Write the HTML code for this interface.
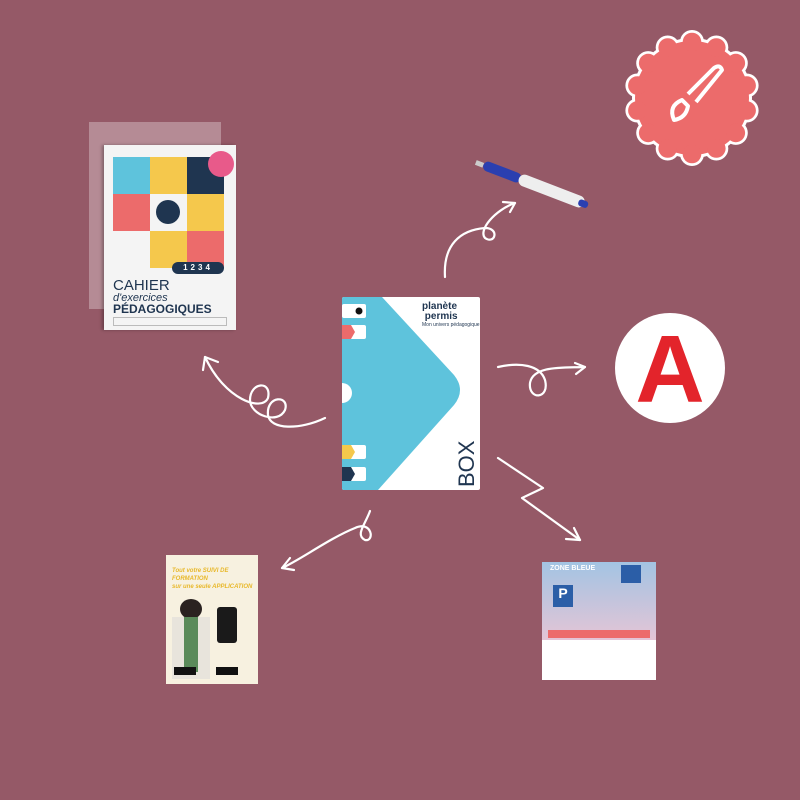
<!DOCTYPE html>
<html><head><meta charset="utf-8"><style>
html,body{margin:0;padding:0}
body{width:800px;height:800px;background:#955967;position:relative;overflow:hidden;font-family:"Liberation Sans",sans-serif}
.abs{position:absolute}
</style></head><body>
<svg class="abs" style="left:0;top:0" width="800" height="800" viewBox="0 0 800 800">
<defs>
<g id="bw"><use href="#b0"/></g>
</defs>
<!-- badge -->
<g transform="translate(692,98)">
<g fill="#fff">
<circle r="60"/>
<circle cx="0" cy="-56" r="12"/><circle cx="24.3" cy="-50.5" r="12"/><circle cx="43.8" cy="-34.9" r="12"/><circle cx="54.6" cy="-12.5" r="12"/><circle cx="54.6" cy="12.5" r="12"/><circle cx="43.8" cy="34.9" r="12"/><circle cx="24.3" cy="50.5" r="12"/><circle cx="0" cy="56" r="12"/><circle cx="-24.3" cy="50.5" r="12"/><circle cx="-43.8" cy="34.9" r="12"/><circle cx="-54.6" cy="12.5" r="12"/><circle cx="-54.6" cy="-12.5" r="12"/><circle cx="-43.8" cy="-34.9" r="12"/><circle cx="-24.3" cy="-50.5" r="12"/>
</g>
<g fill="#ec6b6b">
<circle r="57"/>
<circle cx="0" cy="-56" r="9.3"/><circle cx="24.3" cy="-50.5" r="9.3"/><circle cx="43.8" cy="-34.9" r="9.3"/><circle cx="54.6" cy="-12.5" r="9.3"/><circle cx="54.6" cy="12.5" r="9.3"/><circle cx="43.8" cy="34.9" r="9.3"/><circle cx="24.3" cy="50.5" r="9.3"/><circle cx="0" cy="56" r="9.3"/><circle cx="-24.3" cy="50.5" r="9.3"/><circle cx="-43.8" cy="34.9" r="9.3"/><circle cx="-54.6" cy="12.5" r="9.3"/><circle cx="-54.6" cy="-12.5" r="9.3"/><circle cx="-43.8" cy="-34.9" r="9.3"/><circle cx="-24.3" cy="-50.5" r="9.3"/>
</g>
<path d="M-18,22 q-6,-14 8,-20 l6,6 q-2,12 -14,14z" fill="none" stroke="#fff" stroke-width="4" stroke-linejoin="round"/>
<path d="M-4,-4 L22,-30 q6,-4 8,2 L4,4" fill="none" stroke="#fff" stroke-width="4" stroke-linejoin="round"/>
</g>
<!-- A sign -->
<circle cx="670" cy="368" r="55" fill="#fff"/>
<text x="670" y="402" text-anchor="middle" font-family="Liberation Sans" font-weight="bold" font-size="96" fill="#e3242b">A</text>
<!-- arrows -->
<g fill="none" stroke="#fff" stroke-width="2.2" stroke-linecap="round" stroke-linejoin="round">
<path d="M445,277 C443,245 460,230 485,228 C500,228 495,245 485,238 C478,230 495,210 515,203"/>
<path d="M503,202 L515,203 L510,212"/>
<path d="M325,418 C300,430 270,430 268,415 C266,395 290,395 285,410 C278,425 250,415 250,400 C250,382 272,380 268,398 C262,412 225,400 205,357"/>
<path d="M203,370 L205,357 L218,362"/>
<path d="M498,367 C520,362 540,365 545,380 C550,400 528,400 530,383 C533,365 565,368 585,367"/>
<path d="M575,363 L585,367 L576,374"/>
<path d="M498,458 L543,488 L522,498 L580,540"/>
<path d="M566,539 L580,540 L574,528"/>
<path d="M370,511 C365,525 355,535 365,540 C375,542 372,520 355,528 C330,538 300,560 282,568"/>
<path d="M290,558 L282,568 L294,570"/>
</g>
<!-- pen -->
<g transform="translate(476,162) rotate(21)">
<rect x="0" y="-2" width="8" height="5" fill="#ccc"/>
<rect x="8" y="-5" width="40" height="10" rx="5" fill="#2a3fb0"/>
<rect x="46" y="-6" width="70" height="12" rx="6" fill="#eee"/>
<rect x="110" y="-3" width="10" height="7" rx="3" fill="#2a3fb0"/>
</g>
</svg>
<!-- cahier -->
<div class="abs" style="left:89px;top:122px;width:132px;height:187px;background:rgba(255,255,255,.3)"></div>
<div class="abs" style="left:104px;top:145px;width:132px;height:185px;background:#f4f4f4;box-shadow:-2px 0 3px rgba(0,0,0,.3)">
 <div class="abs" style="left:9px;top:12px;width:37px;height:37px;background:#5ec3dc"></div>
 <div class="abs" style="left:46px;top:12px;width:37px;height:37px;background:#f5c84c"></div>
 <div class="abs" style="left:83px;top:12px;width:37px;height:37px;background:#1f3550"></div>
 <div class="abs" style="left:9px;top:49px;width:37px;height:37px;background:#ec6b6b"></div>
 <div class="abs" style="left:46px;top:49px;width:37px;height:37px;background:#f4f4f4"><div class="abs" style="left:6px;top:6px;width:24px;height:24px;border-radius:50%;background:#1f3550"></div></div>
 <div class="abs" style="left:83px;top:49px;width:37px;height:37px;background:#f5c84c"></div>
 <div class="abs" style="left:46px;top:86px;width:37px;height:37px;background:#f5c84c"></div>
 <div class="abs" style="left:83px;top:86px;width:37px;height:37px;background:#ec6b6b"></div>
 <div class="abs" style="left:104px;top:6px;width:26px;height:26px;border-radius:50%;background:#e85a8a"></div>
 <div class="abs" style="left:68px;top:117px;width:52px;height:12px;color:#fff;font-size:8px;font-weight:bold;letter-spacing:3px;background:#1f3550;border-radius:6px;text-align:center;line-height:12px">1234</div>
 <div class="abs" style="left:9px;top:133px;font-size:15px;color:#1f3550;line-height:15px">CAHIER</div>
 <div class="abs" style="left:9px;top:147px;font-size:11px;font-style:italic;color:#1f3550">d'exercices</div>
 <div class="abs" style="left:9px;top:157px;font-size:12px;font-weight:bold;color:#1f3550">PÉDAGOGIQUES</div>
 <div class="abs" style="left:9px;top:172px;width:112px;height:7px;border:1px solid #bbb"></div>
</div>
<!-- box -->
<div class="abs" style="left:342px;top:297px;width:138px;height:193px;background:#fff;overflow:hidden;border-radius:2px">
 <svg class="abs" style="left:0;top:0" width="138" height="193"><path d="M0,0 L40,0 L112,78 Q124,93 112,108 L36,193 L0,193Z" fill="#5ec3dc"/><circle cx="0" cy="96" r="10" fill="#fff"/>
 <rect x="0" y="7" width="24" height="14" fill="#fff" rx="2"/><circle cx="17" cy="14" r="3.5" fill="#111"/>
 <rect x="0" y="28" width="24" height="14" fill="#fff" rx="2"/><path d="M0,28 L9,28 L13,35 L9,42 L0,42Z" fill="#ec6b6b"/>
 <rect x="0" y="148" width="24" height="14" fill="#fff" rx="2"/><path d="M0,148 L9,148 L13,155 L9,162 L0,162Z" fill="#f5c84c"/>
 <rect x="0" y="170" width="24" height="14" fill="#fff" rx="2"/><path d="M0,170 L9,170 L13,177 L9,184 L0,184Z" fill="#1f3550"/></svg>
 <div class="abs" style="left:80px;top:5px;font-size:10px;font-weight:bold;color:#1f3550;line-height:10px">planète<br>&nbsp;permis</div>
 <div class="abs" style="left:80px;top:25px;font-size:5px;color:#1f3550">Mon univers pédagogique</div>
 <div class="abs" style="font-size:22px;color:#1f3550;transform:rotate(-90deg);transform-origin:0 0;left:112px;top:190px">BOX</div>
</div>
<!-- flyer -->
<div class="abs" style="left:166px;top:555px;width:92px;height:129px;background:#f7f1e0;overflow:hidden">
 <div class="abs" style="left:6px;top:12px;font-size:6px;font-weight:bold;font-style:italic;color:#e8b82a;line-height:8px">Tout votre SUIVI DE FORMATION<br>sur une seule APPLICATION</div>
 <div class="abs" style="left:14px;top:44px;width:22px;height:20px;border-radius:50%;background:#2a2220"></div>
 <div class="abs" style="left:6px;top:62px;width:38px;height:62px;background:#e8e4dc"></div>
 <div class="abs" style="left:18px;top:62px;width:14px;height:55px;background:#5a8a5a"></div>
 <div class="abs" style="left:51px;top:52px;width:20px;height:36px;background:#1a1a1a;border-radius:3px"></div>
 <div class="abs" style="left:8px;top:112px;width:22px;height:8px;background:#111"></div>
 <div class="abs" style="left:50px;top:112px;width:22px;height:8px;background:#111"></div>
</div>
<!-- zone bleue -->
<div class="abs" style="left:542px;top:562px;width:114px;height:118px;background:#fff;overflow:hidden">
 <div class="abs" style="left:0;top:0;width:114px;height:78px;background:linear-gradient(#a3c4e3,#e4c5d6)"></div>
 <div class="abs" style="left:8px;top:3px;font-size:7px;font-weight:bold;color:#fff">ZONE BLEUE</div>
 <div class="abs" style="left:11px;top:23px;width:20px;height:22px;background:#2b5ea7;color:#fff;font-weight:bold;font-size:14px;text-align:center">P</div>
 <div class="abs" style="left:79px;top:3px;width:20px;height:18px;background:#2b5ea7"></div>
 <div class="abs" style="left:6px;top:68px;width:102px;height:8px;background:#ec6b6b"></div>
</div>
</body></html>
